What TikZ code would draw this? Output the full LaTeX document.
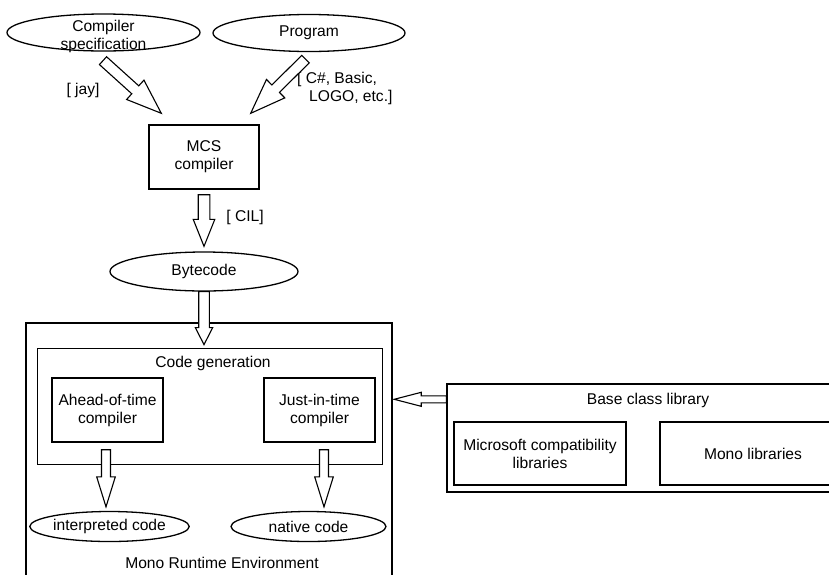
\documentclass[tikz,border=0pt]{standalone}
\usepackage{fontspec}
\setmainfont{Liberation Sans}
\usetikzlibrary{calc,shapes.geometric}

% hollow block arrow: [half shaft/half head/head length]{from}{to}
\newcommand{\bigarrow}[3][5/11/27]{%
\foreach \sw/\hw/\hl in {#1}
\draw[bigarrow] let \p1=(#2), \p2=(#3), \n1={atan2(\y2-\y1,\x2-\x1)}, \n2={veclen(\x2-\x1,\y2-\y1)} in
(\p1) ++(\n1+90:\sw) -- ++(\n1:\n2-\hl) -- ++(\n1+90:\hw-\sw) -- (\p2) -- ($(\p2)+(\n1+180:\hl)+(\n1-90:\hw)$) -- ++(\n1+90:\hw-\sw) -- ($(\p1)+(\n1-90:\sw)$) -- cycle;}

\begin{document}
\begin{tikzpicture}[x=1pt, y=1pt, font=\fontsize{15.6}{18}\selectfont,
  oval/.style={draw, ellipse, line width=1.3pt, inner xsep=0pt, inner ysep=-4pt, align=center},
  box/.style={draw, rectangle, line width=1.4pt, align=center, inner sep=0pt},
  thinbox/.style={draw, rectangle, line width=0.8pt, inner sep=0pt},
  bigarrow/.style={draw, fill=white, line width=1.1pt, line join=miter},
  txt/.style={align=center, inner sep=0pt}]
\useasboundingbox (0,0) rectangle (829,-574);
\clip (0,0) rectangle (829,-574);

\node[oval, minimum width=193pt, minimum height=37pt] (spec) at (103.5,-32.5) {};
\node[txt] (spectxt) at (103.5,-36.5) {Compiler\\specification};
\node[oval, minimum width=192pt, minimum height=37pt] (prog) at (309,-33) {Program};
\node[txt] (jay) at (83,-90) {[ jay]};
\node[txt, align=left, anchor=west] (lang) at (297,-88.5) {[ C\#, Basic,\\\hspace*{12pt}LOGO, etc.]};

\node[box, minimum width=110pt, minimum height=64pt] (mcs) at (204,-157) {MCS\\compiler};
\node[txt] (cil) at (245,-217) {[ CIL]};
\node[oval, minimum width=188pt, minimum height=39pt] (byte) at (204,-271.5) {Bytecode};

\node[box, minimum width=366pt, minimum height=277pt] (mono) at (209,-461.5) {};
\node[txt] (monotxt) at (222,-563) {Mono Runtime Environment};
\node[thinbox, minimum width=345pt, minimum height=116pt] (codegen) at (209.5,-406) {};
\node[txt] (codetxt) at (213,-363) {Code generation};
\node[box, minimum width=111pt, minimum height=64pt] (aot) at (107.5,-410) {Ahead-of-time\\compiler};
\node[box, minimum width=111pt, minimum height=64pt] (jit) at (319.5,-410) {Just-in-time\\compiler};
\node[oval, minimum width=155pt, minimum height=30pt] (interp) at (109.5,-526.5) {interpreted code};
\node[oval, minimum width=155pt, minimum height=30pt] (native) at (308.5,-526.5) {native code};

\node[box, minimum width=402pt, minimum height=108pt] (base) at (648,-438) {};
\node[txt] (basetxt) at (648,-400) {Base class library};
\node[box, minimum width=172pt, minimum height=63pt] (mscompat) at (540,-453.5) {Microsoft compatibility\\libraries};
\node[box, minimum width=186pt, minimum height=63pt] (monolib) at (753,-453.5) {Mono libraries};
\coordinate (bcl) at ($(base.north west)+(0,-16)$);

\bigarrow[5.3/13/35]{$(spec.south)+(-0.5,-9)$}{$(mcs.north west)+(13,11)$}
\bigarrow[5.3/13/35]{$(prog.south)+(-3.5,-7)$}{$(mcs.north east)+(-9,11)$}
\bigarrow[5.8/10.8/27]{$(mcs.south)+(0,-5)$}{$(byte.north)+(0,5)$}
\bigarrow[5.3/8.7/17]{byte.south}{$(byte.south |- codegen.north)+(0,3)$}
\bigarrow[4.5/9.3/30]{$(aot.south)+(-1.5,-7)$}{$(aot.south |- interp.north)+(-1.5,4)$}
\bigarrow[4.5/9.3/30]{$(jit.south)+(4.5,-7)$}{$(jit.south |- native.north)+(4.5,4)$}
\bigarrow[3.5/7/27]{bcl}{$(mono.east |- bcl)+(1.5,0)$}
\end{tikzpicture}
\end{document}
